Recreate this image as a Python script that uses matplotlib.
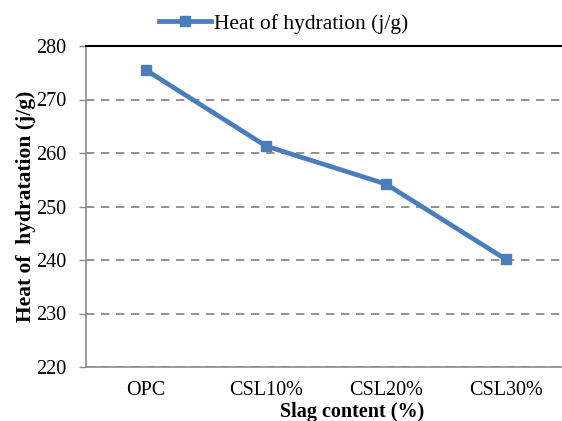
import matplotlib.pyplot as plt
from matplotlib.lines import Line2D

categories = ["OPC", "CSL10%", "CSL20%", "CSL30%"]
heat = [275.5, 261.3, 254.2, 240.1]

plt.rcParams['font.family'] = ['Liberation Serif', 'DejaVu Serif']

fig = plt.figure(figsize=(5.62, 4.21), dpi=100)
ax = fig.add_axes([86 / 562, 54 / 421, 480 / 562, 321 / 421])

blue = '#4A7EBB'
x = list(range(len(categories)))
ax.plot(x, heat, color=blue, linewidth=3.4, marker='s', markersize=7,
        markerfacecolor=blue, markeredgecolor=blue, solid_joinstyle='miter')

ax.set_xlim(-0.5, 3.5)
ax.set_ylim(220, 280)
ax.set_yticks(range(220, 281, 10))
ax.set_xticks(x)
ax.set_xticklabels(categories, fontsize=14.5)
ax.tick_params(axis='y', labelsize=14.5, length=5, color='#888888', width=1, direction='out', pad=9)
ax.tick_params(axis='x', length=0, pad=10)

ax.yaxis.grid(True, linestyle=(0, (5, 4)), color='#808080', linewidth=1.2)
ax.set_axisbelow(True)

for side in ['left', 'bottom']:
    ax.spines[side].set_color('#8c8c8c')
    ax.spines[side].set_linewidth(1.2)
ax.spines['right'].set_visible(False)
ax.spines['top'].set_color('black')
ax.spines['top'].set_linewidth(1.5)

ax.set_ylabel("Heat of  hydratation (j/g)", fontsize=15.5, fontweight='bold')
ax.yaxis.set_label_coords(-0.105, 0.5)
ax.set_xlabel("Slag content (%)", fontsize=14.5, fontweight='bold')
ax.xaxis.set_label_coords(0.555, -0.108)

handle = Line2D([], [], color=blue, linewidth=3.4, marker='s', markersize=7)
fig.legend([handle], ["Heat of hydration (j/g)"], loc='center', bbox_to_anchor=(0.505, 0.944),
           frameon=False, fontsize=15.5, handlelength=2.4, handletextpad=0.15)

fig.savefig('out.png', dpi=100)
